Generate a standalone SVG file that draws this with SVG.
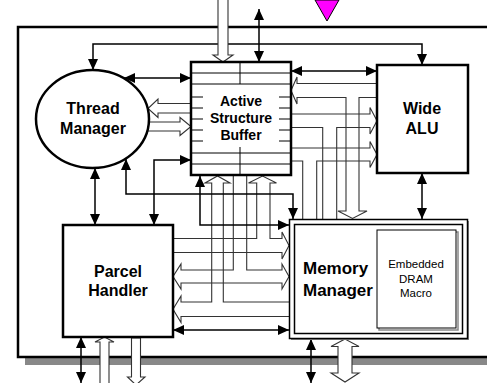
<svg xmlns="http://www.w3.org/2000/svg" width="487" height="383" viewBox="0 0 487 383">
<style>
.box{fill:#fff;stroke:#000;stroke-width:2.5}
.thin{fill:none;stroke:#000;stroke-width:1}
.conn{fill:none;stroke:#000;stroke-width:1.5}
.bus{fill:none;stroke:#333;stroke-width:1.1}
.busf{fill:#fff;stroke:#333;stroke-width:1.1}
.lbl{font-family:"Liberation Sans",Arial,sans-serif;font-weight:bold;text-anchor:middle;fill:#000}
.sm{font-family:"Liberation Sans",Arial,sans-serif;font-size:11.5px;text-anchor:middle;fill:#000}
</style>
<defs>
<marker id="ah" viewBox="0 0 11 10" refX="11" refY="5" markerWidth="11" markerHeight="10" markerUnits="userSpaceOnUse" orient="auto-start-reverse">
<path d="M0,0 L11,5 L0,10 z" fill="#000"/>
</marker>
</defs>
<polygon points="315,0 339,0 327,21" fill="#ff00ff" stroke="#000" stroke-width="1"/>
<rect x="25" y="358" width="462" height="7" fill="#888"/>
<path d="M487,27 H18 V357 H487" fill="none" stroke="#000" stroke-width="2.5"/>
<g id="connectors">
<path class="bus" d="M377,83.5 H297 V77 L291,90.5 L297,104 V97.5 H346 V211 H338 L352.5,218.5 L367,211 H359 V97.5 H377"/>
<path class="bus" d="M291,114 H370 V107.5 L377,120.75 L370,134 V127.5 H336.7 V219 M322.7,219 V127.5 H291"/>
<path class="bus" d="M291,148 H370 V141.5 L377,154.5 L370,167.5 V161 H316.7 V219 M302.7,219 V161 H291"/>
<path class="bus" d="M289,302 H223.3 V183 H230 L217.5,176 L205,183 H211.7 V302 H181 V296 L173,309.25 L181,322.5 V316.5 H289"/>
<path class="bus" d="M173,238.5 H256.7 V183 H248.5 L262.5,176 L276.5,183 H270 V238.5 H282 V232 L289,245.5 L282,259 V252.5 H173"/>
<path class="bus" d="M233.3,175 V270 H181 V264 L173,276.5 L181,289 V283 H282 V289 L289,276.5 L282,264 V270 H246.7 V175"/>
<path class="conn" d="M259,9 V62" marker-start="url(#ah)" marker-end="url(#ah)"/>
<path class="conn" d="M93,70 V44 H422 V65" marker-start="url(#ah)" marker-end="url(#ah)"/>
<path class="conn" d="M124,78 H191" marker-start="url(#ah)" marker-end="url(#ah)"/>
<path class="conn" d="M291,71 H377" marker-start="url(#ah)" marker-end="url(#ah)"/>
<path class="conn" d="M95,168 V225" marker-start="url(#ah)" marker-end="url(#ah)"/>
<path class="conn" d="M154,225 V160 H191" marker-start="url(#ah)" marker-end="url(#ah)"/>
<path class="conn" d="M126,159 V194 H293 V219" marker-start="url(#ah)" marker-end="url(#ah)"/>
<path class="conn" d="M200,176 V225 H289" marker-start="url(#ah)" marker-end="url(#ah)"/>
<path class="conn" d="M173,330 H289" marker-start="url(#ah)" marker-end="url(#ah)"/>
<path class="conn" d="M422,173 V219" marker-start="url(#ah)" marker-end="url(#ah)"/>
<path class="conn" d="M81,337 V383" marker-start="url(#ah)" marker-end="url(#ah)"/>
<path class="conn" d="M311,339 V383" marker-start="url(#ah)" marker-end="url(#ah)"/>
<polygon class="busf" points="218,-2 218,55 213,55 223,62 233,55 228,55 228,-2"/>
<polygon class="busf" points="191,103.5 158,103.5 158,99 148,108.5 158,117.5 158,113 191,113"/>
<polygon class="busf" points="147,122 180,122 180,117.5 191,126.5 180,135.5 180,131 147,131"/>
<polygon class="busf" points="100,390 100,342 95,342 104.5,337 114,342 109,342 109,390"/>
<polygon class="busf" points="131.5,338 131.5,377 127.5,377 136,385 145,377 140.5,377 140.5,338"/>
<polygon class="busf" points="345,339 331,346.5 338,346.5 338,373 331,373 345,382 359,373 352,373 352,346.5 359,346.5"/>
</g>
<g id="thread-manager">
<ellipse cx="92.5" cy="119" rx="56.5" ry="49" class="box"/>
<text class="lbl" x="93" y="113.5" font-size="16">Thread</text>
<text class="lbl" x="93" y="133.5" font-size="16">Manager</text>
</g>
<g id="asb">
<rect x="191" y="62" width="100" height="113" class="box"/>
<path class="thin" d="M191,73 H291 M191,84 H291 M191,153 H291 M191,164 H291 M240,62 V84 M240,147 V175 M191,97 H203 M191,108 H203 M191,119 H203 M191,130 H203 M191,141 H203 M279,97 H291 M279,108 H291 M279,119 H291 M279,130 H291 M279,141 H291"/>
<text class="lbl" x="241" y="105.5" font-size="14">Active</text>
<text class="lbl" x="241" y="122.5" font-size="14">Structure</text>
<text class="lbl" x="241" y="139.5" font-size="14">Buffer</text>
</g>
<g id="wide-alu">
<rect x="377" y="65" width="91" height="108" class="box"/>
<text class="lbl" x="422" y="114" font-size="16">Wide</text>
<text class="lbl" x="422" y="134" font-size="16">ALU</text>
</g>
<g id="parcel-handler">
<rect x="63" y="225" width="110" height="112" class="box"/>
<text class="lbl" x="118" y="277" font-size="16">Parcel</text>
<text class="lbl" x="118" y="296" font-size="16">Handler</text>
</g>
<g id="memory-manager">
<rect x="291" y="221" width="178" height="119" fill="#888"/>
<rect x="289.5" y="219.5" width="178" height="119" fill="#fff" stroke="#000" stroke-width="1.5"/>
<rect x="294.5" y="224.5" width="168" height="109" fill="none" stroke="#000" stroke-width="1.5"/>
<rect x="379" y="232" width="79" height="98" fill="none" stroke="#888" stroke-width="1.5"/>
<rect x="377" y="230" width="79" height="98" fill="#fff" stroke="#000" stroke-width="1"/>
<text x="303" y="274" font-size="17" font-family="Liberation Sans,Arial,sans-serif" font-weight="bold">Memory</text>
<text x="303" y="296" font-size="17" font-family="Liberation Sans,Arial,sans-serif" font-weight="bold">Manager</text>
<text class="sm" x="416" y="268">Embedded</text>
<text class="sm" x="416" y="282.5">DRAM</text>
<text class="sm" x="416" y="297">Macro</text>
</g>
</svg>
